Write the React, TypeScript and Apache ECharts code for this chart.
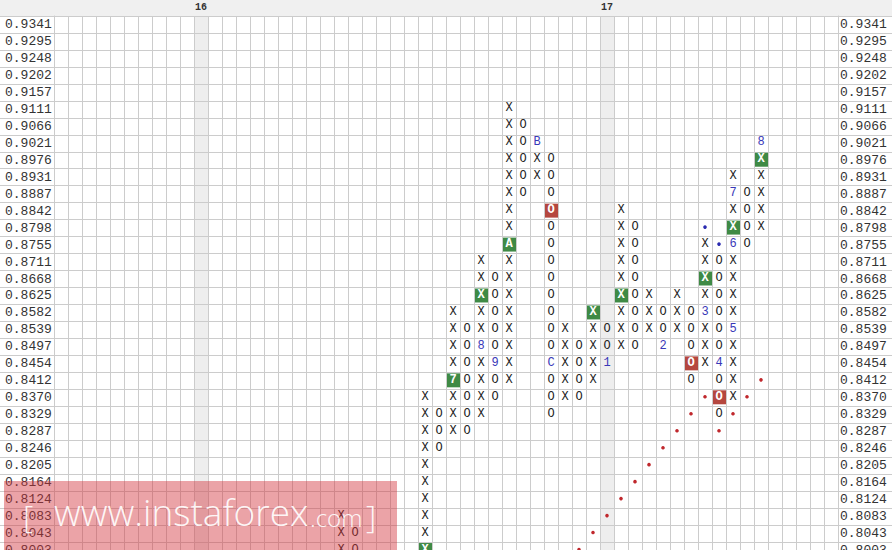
import React, { useEffect, useRef } from 'react';
import * as echarts from 'echarts';

const priceLevels = [
  '0.9341', '0.9295', '0.9248', '0.9202', '0.9157', '0.9111', '0.9066', '0.9021',
  '0.8976', '0.8931', '0.8887', '0.8842', '0.8798', '0.8755', '0.8711', '0.8668',
  '0.8625', '0.8582', '0.8539', '0.8497', '0.8454', '0.8412', '0.8370', '0.8329',
  '0.8287', '0.8246', '0.8205', '0.8164', '0.8124', '0.8083', '0.8043', '0.8003',
];

const columnCount = 56;

// [column, high price, low price]
const xColumns: [number, string, string][] = [
  [20, '0.8083', '0.8003'],
  [26, '0.8370', '0.8003'],
  [28, '0.8582', '0.8287'],
  [30, '0.8711', '0.8329'],
  [32, '0.9111', '0.8412'],
  [34, '0.9021', '0.8931'],
  [36, '0.8539', '0.8370'],
  [38, '0.8582', '0.8412'],
  [40, '0.8842', '0.8497'],
  [42, '0.8625', '0.8539'],
  [44, '0.8625', '0.8539'],
  [46, '0.8755', '0.8454'],
  [48, '0.8931', '0.8370'],
  [50, '0.9021', '0.8798'],
];

const oColumns: [number, string, string][] = [
  [21, '0.8043', '0.8003'],
  [27, '0.8329', '0.8246'],
  [29, '0.8539', '0.8287'],
  [31, '0.8668', '0.8370'],
  [33, '0.9066', '0.8887'],
  [35, '0.8976', '0.8329'],
  [37, '0.8497', '0.8370'],
  [39, '0.8539', '0.8454'],
  [41, '0.8798', '0.8497'],
  [43, '0.8582', '0.8497'],
  [45, '0.8582', '0.8412'],
  [47, '0.8711', '0.8329'],
  [49, '0.8887', '0.8755'],
];

// [column, price, text]
const buySignals: [number, string, string][] = [
  [26, '0.8003', 'X'],
  [28, '0.8412', '7'],
  [30, '0.8625', 'X'],
  [32, '0.8755', 'A'],
  [38, '0.8582', 'X'],
  [40, '0.8625', 'X'],
  [46, '0.8668', 'X'],
  [48, '0.8798', 'X'],
  [50, '0.8976', 'X'],
];

const sellSignals: [number, string, string][] = [
  [35, '0.8842', 'O'],
  [45, '0.8454', 'O'],
  [47, '0.8370', 'O'],
];

const monthMarks: [number, string, string][] = [
  [30, '0.8497', '8'],
  [31, '0.8454', '9'],
  [34, '0.9021', 'B'],
  [35, '0.8454', 'C'],
  [39, '0.8454', '1'],
  [43, '0.8497', '2'],
  [46, '0.8582', '3'],
  [47, '0.8454', '4'],
  [48, '0.8539', '5'],
  [48, '0.8755', '6'],
  [48, '0.8887', '7'],
  [50, '0.9021', '8'],
];

// [column, price]
const supportDots: [number, string][] = [
  [37, '0.8003'], [38, '0.8043'], [39, '0.8083'], [40, '0.8124'], [41, '0.8164'],
  [42, '0.8205'], [43, '0.8246'], [44, '0.8287'], [45, '0.8329'], [46, '0.8370'],
  [47, '0.8287'], [48, '0.8329'], [49, '0.8370'], [50, '0.8412'],
];

const resistanceDots: [number, string][] = [
  [46, '0.8798'], [47, '0.8755'],
];

const yearMarks: [number, string][] = [
  [10, '16'],
  [39, '17'],
];

const GRID_COLOR = '#cccccc';
const MONO = '"Courier New", "Liberation Mono", monospace';

type Cell = { col: number; row: number; text: string; kind: 'X' | 'O' | 'buy' | 'sell' | 'month' | 'sup' | 'res' };

function buildCells(): Cell[] {
  const map = new Map<string, Cell>();
  const put = (c: Cell) => map.set(c.col + '_' + c.row, c);
  const addCols = (cols: [number, string, string][], t: 'X' | 'O') => {
    cols.forEach(([col, hi, lo]) => {
      const a = priceLevels.indexOf(hi);
      const b = priceLevels.indexOf(lo);
      for (let r = a; r <= b; r++) put({ col, row: r, text: t, kind: t });
    });
  };
  addCols(xColumns, 'X');
  addCols(oColumns, 'O');
  monthMarks.forEach(([col, p, t]) => put({ col, row: priceLevels.indexOf(p), text: t, kind: 'month' }));
  buySignals.forEach(([col, p, t]) => put({ col, row: priceLevels.indexOf(p), text: t, kind: 'buy' }));
  sellSignals.forEach(([col, p, t]) => put({ col, row: priceLevels.indexOf(p), text: t, kind: 'sell' }));
  const cells = Array.from(map.values());
  supportDots.forEach(([col, p]) => cells.push({ col, row: priceLevels.indexOf(p), text: '', kind: 'sup' }));
  resistanceDots.forEach(([col, p]) => cells.push({ col, row: priceLevels.indexOf(p), text: '', kind: 'res' }));
  return cells;
}

export default function App() {
  const ref = useRef<HTMLDivElement>(null);
  useEffect(() => {
    const chart = echarts.init(ref.current!, null, { renderer: 'svg' });
    const cells = buildCells();
    const colNames = Array.from({ length: columnCount }, (_, i) => String(i));
    const yearMap = new Map(yearMarks.map(([c, l]) => [c, l]));

    const yAxisBase = {
      type: 'category',
      inverse: true,
      data: priceLevels,
      boundaryGap: true,
      axisLine: { show: true, lineStyle: { color: GRID_COLOR, width: 1 } },
      axisTick: { show: true, interval: 0, length: 54, lineStyle: { color: GRID_COLOR, width: 1 } },
    };

    const option: any = {
      animation: false,
      backgroundColor: '#ffffff',
      grid: { left: 54, right: 54, top: 16, height: 543, containLabel: false },
      xAxis: {
        type: 'category',
        position: 'top',
        data: colNames,
        boundaryGap: true,
        axisLine: { show: true, lineStyle: { color: GRID_COLOR } },
        axisTick: { show: false },
        axisLabel: {
          interval: 0,
          margin: 4,
          fontFamily: MONO,
          fontSize: 10,
          fontWeight: 'bold',
          color: '#333333',
          formatter: (_v: string, i: number) => yearMap.get(i) || '',
        },
        splitLine: { show: true, interval: 0, lineStyle: { color: GRID_COLOR, width: 1 } },
      },
      yAxis: [
        {
          ...yAxisBase,
          position: 'left',
          axisLabel: { interval: 0, align: 'left', margin: 49, fontFamily: MONO, fontSize: 13, color: '#333333' },
          splitLine: { show: true, interval: 0, lineStyle: { color: GRID_COLOR, width: 1 } },
        },
        {
          ...yAxisBase,
          position: 'right',
          axisLabel: { interval: 0, align: 'left', margin: 2, fontFamily: MONO, fontSize: 13, color: '#333333' },
          splitLine: { show: false },
        },
      ],
      series: [
        {
          type: 'custom',
          z: -1,
          silent: true,
          data: yearMarks.map(([c]) => [c, 0]),
          renderItem: (params: any, api: any) => {
            const [cx] = api.coord([api.value(0), 0]);
            const [w] = api.size([1, 1]);
            const cs = params.coordSys;
            return {
              type: 'rect',
              shape: { x: cx - w / 2, y: cs.y, width: w, height: cs.height },
              style: { fill: '#eeeeee' },
            };
          },
        },
        {
          type: 'custom',
          silent: true,
          clip: false,
          data: cells.map((c) => [c.col, c.row]),
          renderItem: (params: any, api: any) => {
            const cell = cells[params.dataIndex];
            const [cx, cy] = api.coord([api.value(0), api.value(1)]);
            const [w, h] = api.size([1, 1]);
            if (cell.kind === 'sup' || cell.kind === 'res') {
              return {
                type: 'circle',
                shape: { cx, cy: cy - 1, r: 1.8 },
                style: { fill: cell.kind === 'sup' ? '#c0282d' : '#2b2bb0' },
              };
            }
            const children: any[] = [];
            let fill = '#222222';
            let weight = 'normal';
            if (cell.kind === 'buy' || cell.kind === 'sell') {
              children.push({
                type: 'rect',
                shape: { x: cx - w / 2 + 1, y: cy - h / 2 + 1, width: w - 1, height: h - 3 },
                style: { fill: cell.kind === 'buy' ? '#3f8a45' : '#b5473f' },
              });
              fill = '#ffffff';
              weight = 'bold';
            } else if (cell.kind === 'month') {
              fill = '#3838b8';
            }
            children.push({
              type: 'text',
              style: {
                text: cell.text,
                x: cx,
                y: cy - 1,
                align: 'center',
                verticalAlign: 'middle',
                fill,
                font: `${weight} 12px ${MONO}`,
              },
            });
            return { type: 'group', children };
          },
        },
      ],
      graphic: [
        { type: 'rect', z: -10, shape: { x: 0, y: 0, width: 892, height: 16 }, style: { fill: '#f0f0f0' } },
        { type: 'rect', z: 100, shape: { x: 4, y: 481, width: 393, height: 80 }, style: { fill: 'rgba(210,50,60,0.45)' } },
        {
          type: 'text', z: 101, x: 23, y: 515,
          style: { text: '[', font: '300 32px "Open Sans"', fill: 'rgba(255,255,255,0.92)', verticalAlign: 'middle' },
        },
        {
          type: 'text', z: 101, x: 54, y: 511,
          style: { text: 'www.instaforex', font: '300 37px "Open Sans"', fill: 'rgba(255,255,255,0.92)', verticalAlign: 'middle' },
        },
        {
          type: 'text', z: 101, x: 310, y: 517,
          style: { text: '.com', font: '300 24px "Open Sans"', fill: 'rgba(255,255,255,0.92)', verticalAlign: 'middle' },
        },
        {
          type: 'text', z: 101, x: 366, y: 515,
          style: { text: ']', font: '300 32px "Open Sans"', fill: 'rgba(255,255,255,0.92)', verticalAlign: 'middle' },
        },
      ],
    };
    chart.setOption(option);
    return () => chart.dispose();
  }, []);
  return <div ref={ref} style={{ position: 'fixed', left: 0, top: 0, width: 892, height: 560 }} />;
}
